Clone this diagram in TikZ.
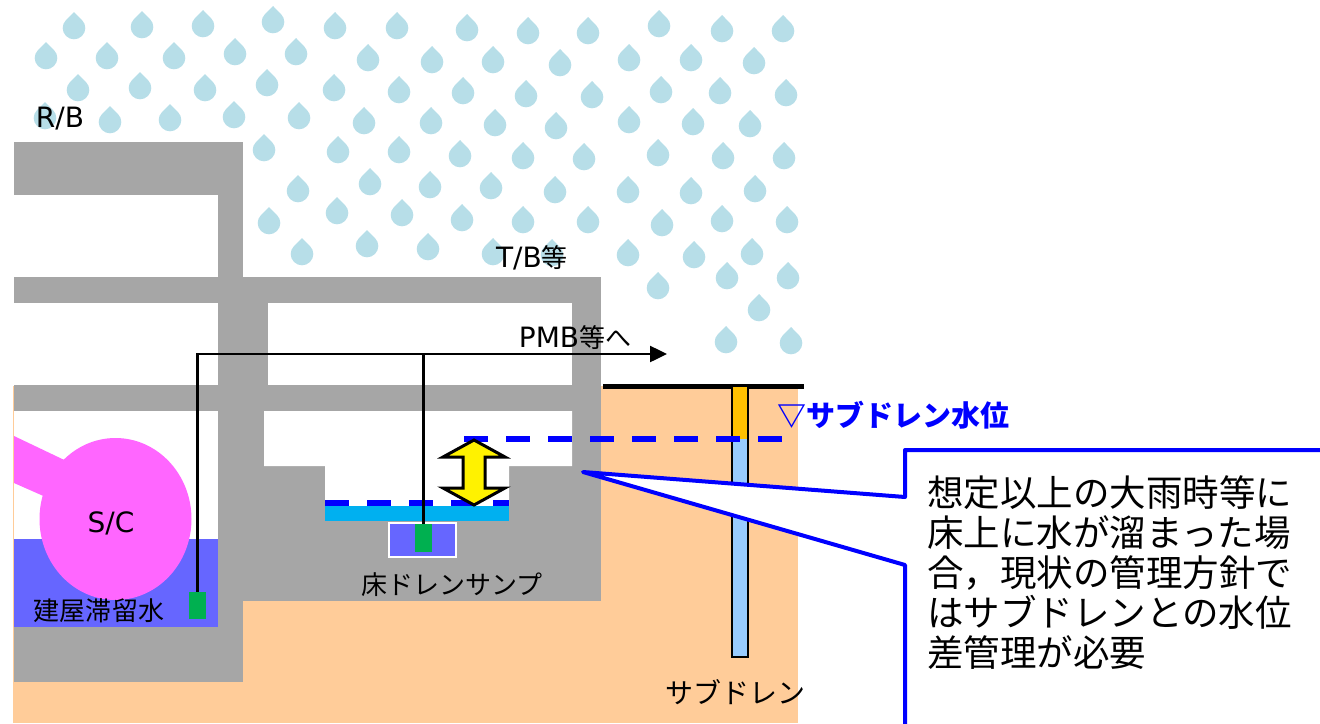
\documentclass[tikz,border=0pt]{standalone}
\usepackage{fontspec}
\setmainfont{Noto Sans CJK JP}
\newfontfamily\latinfont{DejaVu Sans}
\usetikzlibrary{arrows.meta}
\usetikzlibrary{positioning}
\definecolor{wallgray}{HTML}{A6A6A6}
\definecolor{soil}{HTML}{FFCC99}
\definecolor{rain}{HTML}{B7DEE8}
\definecolor{torus}{HTML}{FF66FF}
\definecolor{stagnant}{HTML}{6666FF}
\definecolor{floorwater}{HTML}{00B0F0}
\definecolor{pumpgreen}{HTML}{00B050}
\definecolor{wellamber}{HTML}{FFC000}
\definecolor{wellwater}{HTML}{99CCFF}
\definecolor{mblue}{HTML}{0000FF}
\newcommand{\lat}[1]{{\latinfont\fontsize{28}{30}\selectfont #1}}
\tikzset{raindrop/.pic = {\fill[rain] (0pt,16pt) -- (44.9:11.3pt) arc[start angle=44.9, end angle=-224.9, radius=11.3pt] -- cycle;}}
\tikzset{pump/.style = {fill=pumpgreen, inner sep=0, minimum width=17pt, minimum height=27pt}}
\tikzset{pipe/.style = {line width=2.5pt}}
\tikzset{level/.style = {mblue, line width=5.5pt, dash pattern=on 24pt off 18pt}}
\tikzset{lbl/.style = {inner sep=0, font=\fontsize{26}{30}\selectfont}}

\begin{document}
\begin{tikzpicture}[x=1pt, y=-1pt]
      \useasboundingbox (0,0) rectangle (1320,723);
      \clip (0,0) rectangle (1320,723);
      \foreach \p in {(74,28),(142,27),(203,26),(273,22),(335,28),(397,28),(467,30),(528,33),(588,33),(659,26),(722,31),(783,31),
                      (46,58),(107,58),(174,58),(235,54),(296,54),(368,60),(432,62),(493,62),(560,65),(629,60),(691,60),(754,63),
                      (78,90),(140,88),(205,90),(267,85),(334,90),(399,92),(463,93),(526,96),(592,97),(661,92),(720,93),(786,95),
                      (45,118),(110,122),(170,120),(234,117),(299,118),(364,123),(431,123),(495,125),(556,128),(629,122),(693,124),(750,126),
                      (264,150),(338,152),(399,152),(460,156),(523,158),(584,159),(658,155),(723,158),(784,158),
                      (298,191),(370,184),(430,187),(491,188),(555,192),(628,192),(691,193),(755,191),
                      (269,223),(337,213),(402,215),(462,220),(523,222),(588,222),(662,225),(722,221),(787,222),
                      (302,254),(367,246),(428,249),(493,254),(552,255),(628,255),(694,257),(752,254),
                      (658,288),(727,278),(788,278),(759,310),(726,342),(791,343)}
        \pic at \p {raindrop};
      \node [lbl] (rb) at (60,119) {\lat{R/B}};
      \node [lbl] (tb) at (532,258) {\lat{T/B}等};

      \fill [soil] (13,386) rectangle (798,723);
      \draw [line width=5pt] (603,386) -- (804,386);

      \fill [wallgray] (14,142) rectangle (243,682);
      \fill [wallgray] (243,277) rectangle (601,601);
      \fill [white] (14,195) rectangle (218,277);
      \fill [white] (14,303) rectangle (218,385);
      \fill [white] (14,411) rectangle (218,627);
      \fill [white] (268,303) rectangle (572,385);
      \fill [white] (264,411) -- (572,411) -- (572,466) -- (509,466) -- (509,506)
                    -- (325,506) -- (325,466) -- (264,466) -- cycle;

      \fill [stagnant] (14,539) rectangle (218,627);
      \fill [torus] (14,436) -- (100,477) -- (100,521) -- (14,483) -- cycle;
      \fill [torus] (115.5,519) ellipse [x radius=76pt, y radius=81pt];
      \node [lbl] (sc) at (111,523) {\lat{S/C}};
      \node [lbl] (stag) at (99,611) {建屋滞留水};

      \fill [floorwater] (325,506) rectangle (509,521);
      \draw [white, line width=1.5pt, fill=stagnant] (389,523) rectangle (456,557);
      \node [lbl] (sump) at (452,585) {床ドレンサンプ};

      \fill [wellamber] (732,386) rectangle (748,439);
      \fill [wellwater] (732,439) rectangle (748,657);
      \draw [line width=2.5pt] (732,386) rectangle (748,657);
      \node [lbl, font=\fontsize{28}{32}\selectfont] (drain) at (735,692) {サブドレン};

      \draw [level] (325,503) -- (509,503);
      \draw [level] (464,439) -- (782,439);
      \node [inner sep=0, text=mblue, font=\fontsize{29}{32}\selectfont\bfseries] (drainlevel) at (893,415) {▽サブドレン水位};

      \draw [fill=yellow, line width=3pt, line join=miter]
        (474,440) -- (505,457) -- (485,457) -- (485,488) -- (505,488) -- (474,505)
        -- (443,488) -- (463,488) -- (463,457) -- (443,457) -- cycle;

      \node [pump] (pumprb) at (197.5,605.5) {};
      \node [pump, minimum height=28pt] (pumpfd) at (423.5,538) {};
      \coordinate (pmb) at (667,354);
      \draw [pipe, -{Triangle[length=17pt, width=16pt]}] (pumprb.north) |- (pmb);
      \draw [pipe] (pumpfd.north) -- (pumpfd.north |- pmb);
      \node [lbl] (pmbtext) at (575,338) {\lat{PMB}等へ};

      \draw [mblue, line width=4pt, fill=white, line join=round]
        (905,450) -- (1340,450) -- (1340,740) -- (905,740) -- (905,565) -- (583,472) -- (905,497) -- cycle;
      \node [anchor=west, align=left, inner sep=0, font=\fontsize{36.5}{40}\selectfont] (note) at (927,573)
        {想定以上の大雨時等に\\床上に水が溜まった場\\合，現状の管理方針で\\はサブドレンとの水位\\差管理が必要};
    \end{tikzpicture}
\end{document}
